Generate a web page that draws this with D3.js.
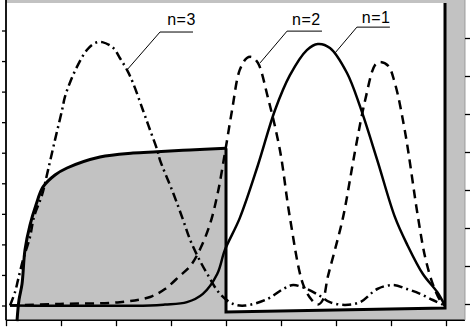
<!DOCTYPE html>
<html>
<head>
<meta charset="utf-8">
<script src="https://cdn.jsdelivr.net/npm/d3@7"></script>
<style>
  body { margin: 0; background: #fff; }
  svg { display: block; }
</style>
</head>
<body>
<svg width="474" height="327"></svg>
<script>
// well profile (x, energy) - white region lies above it
var wellX = [2.0, 2.36, 2.91, 3.45, 4.36, 5.45, 6.73, 8.91, 11.09, 17.09, 23.09, 27.45, 33.45, 40.0, 40.0, 79.82, 79.82];
var wellV = [-0.51, 0.18, 0.70, 1.82, 2.63, 3.29, 3.88, 4.27, 4.50, 4.86, 4.99, 5.03, 5.09, 5.15, -0.21, -0.08, 9.90];

// |psi|^2 for the three states
var n1X = [0.73, 26.2, 28.9, 32.9, 35.8, 38.4, 39.8, 42.5, 45.8, 48.9, 51.6, 54.7, 56.7, 58.9, 62.0, 64.4, 67.5, 70.7, 72.9, 75.8, 78.4, 79.8];
var n1Y = [0, 0, 0.03, 0.11, 0.38, 1.03, 1.82, 2.86, 4.59, 6.39, 7.53, 8.36, 8.56, 8.43, 7.61, 6.50, 4.76, 2.90, 2.01, 1.03, 0.44, 0];

var n2X = [0.73, 9.8, 20.7, 26.2, 28.9, 31.6, 33.5, 35.3, 37.1, 38.5, 39.8, 41.1, 42.5, 43.8, 44.7, 45.8, 47.6, 49.8, 51.6, 54.0, 55.6, 56.7, 57.6, 58.5, 59.8, 61.3, 63.5, 65.3, 67.1, 68.0, 69.5, 70.7, 72.5, 74.9, 76.2, 77.6, 78.9, 79.8];
var n2Y = [0, 0.05, 0.11, 0.28, 0.54, 0.97, 1.29, 1.85, 2.67, 3.68, 4.99, 6.39, 7.71, 8.10, 8.13, 7.94, 6.82, 5.09, 2.90, 0.70, 0.18, 0.03, 0.18, 0.93, 1.82, 2.90, 5.09, 6.72, 7.87, 7.97, 7.84, 7.28, 5.74, 2.90, 1.59, 0.70, 0.18, 0];

var n3X = [0.73, 1.64, 2.18, 3.09, 4.36, 5.09, 6.55, 7.64, 8.91, 10.2, 10.7, 11.6, 12.9, 14.7, 16.2, 17.5, 19.5, 20.7, 22.0, 23.1, 24.9, 26.2, 27.5, 28.0, 30.4, 32.2, 33.5, 34.9, 36.7, 38.9, 41.3, 43.5, 47.5, 50.4, 52.2, 54.7, 57.1, 58.9, 61.6, 64.4, 67.5, 70.4, 72.9, 75.3, 77.6, 79.8];
var n3Y = [0, 0.44, 0.83, 1.49, 2.24, 2.90, 3.62, 4.43, 5.42, 6.40, 6.82, 7.28, 7.81, 8.36, 8.59, 8.62, 8.43, 8.10, 7.71, 7.28, 6.39, 5.74, 5.09, 4.76, 3.68, 2.80, 2.14, 1.59, 1.00, 0.38, 0.05, 0, 0.21, 0.54, 0.67, 0.54, 0.31, 0.11, 0.02, 0.11, 0.54, 0.67, 0.54, 0.38, 0.18, 0];

var labels = ["n=1", "n=2", "n=3"];
var xTicks = [0, 10, 20, 30, 40, 50, 60, 70, 80];
var yTicks = [0, 1, 2, 3, 4, 5, 6, 7, 8, 9];
var y2Ticks = [0, 1, 2, 3, 4, 5, 6, 7];

var svg = d3.select("svg");

var x = d3.scaleLinear().domain([0, 80]).range([6, 446]);
var y = d3.scaleLinear().domain([0, 9]).range([305.5, 30.5]);
var y2 = d3.scaleLinear().domain([0, 7]).range([304, 38]);

var xMax = 83.45, vMin = -0.48, vMax = 10;

// grey background of the frame
svg.append("rect")
    .attr("x", x(0))
    .attr("y", y(vMax))
    .attr("width", x(xMax) - x(0))
    .attr("height", y(vMin) - y(vMax))
    .attr("fill", "#c2c2c2");

// white region above the profile
var white = [[0, 9.9], [0, vMin]].concat(wellX.map(function(d, i) { return [d, wellV[i]]; }));
svg.append("path")
    .datum(white)
    .attr("fill", "#fff")
    .attr("d", d3.line().x(function(d) { return x(d[0]); }).y(function(d) { return y(d[1]); }));

// profile outline: smooth part then the straight walls
var smooth = wellX.slice(0, 14).map(function(d, i) { return [d, wellV[i]]; });
var walls = wellX.slice(13).map(function(d, i) { return [d, wellV[i + 13]]; });
svg.append("path")
    .datum(smooth)
    .attr("fill", "none")
    .attr("stroke", "#000")
    .attr("stroke-width", 3)
    .attr("d", d3.line().curve(d3.curveCatmullRom.alpha(0.5)).x(function(d) { return x(d[0]); }).y(function(d) { return y(d[1]); }));
svg.append("path")
    .datum(walls)
    .attr("fill", "none")
    .attr("stroke", "#000")
    .attr("stroke-width", 3)
    .attr("d", d3.line().x(function(d) { return x(d[0]); }).y(function(d) { return y(d[1]); }));

// wave functions
var line = d3.line().curve(d3.curveCatmullRom.alpha(0.5))
    .x(function(d) { return x(d[0]); })
    .y(function(d) { return y(d[1]); });
var waves = [
  {xs: n1X, ys: n1Y, dash: null},
  {xs: n2X, ys: n2Y, dash: "9,6"},
  {xs: n3X, ys: n3Y, dash: "9,4,2,4"}
];
svg.selectAll(".wave")
    .data(waves)
    .enter().append("path")
      .attr("class", "wave")
      .attr("fill", "none")
      .attr("stroke", "#000")
      .attr("stroke-width", 2.5)
      .attr("stroke-dasharray", function(d) { return d.dash; })
      .attr("d", function(d) { return line(d.xs.map(function(v, i) { return [v, d.ys[i]]; })); });

// axes
svg.append("g")
    .attr("transform", "translate(0," + y(vMin) + ")")
    .call(d3.axisBottom(x).tickValues(xTicks).tickSize(6).tickSizeOuter(0).tickFormat(""))
    .call(function(g) { g.select(".domain").attr("stroke-width", 1.5).attr("d", "M" + x(0) + ",0H" + x(xMax)); })
    .call(function(g) { g.selectAll(".tick line").attr("stroke-width", 1.3); });

svg.append("g")
    .attr("transform", "translate(" + x(0) + ",0)")
    .call(d3.axisLeft(y).tickValues(yTicks).tickSize(4).tickSizeOuter(0).tickFormat(""))
    .call(function(g) { g.select(".domain").attr("stroke-width", 1.8).attr("d", "M0," + y(vMax) + "V" + y(vMin)); })
    .call(function(g) { g.selectAll(".tick line").attr("stroke-width", 1.3); });

svg.append("g")
    .attr("transform", "translate(" + x(xMax) + ",0)")
    .call(d3.axisRight(y2).tickValues(y2Ticks).tickSize(5).tickSizeOuter(0).tickFormat(""))
    .call(function(g) { g.select(".domain").attr("stroke", "#999").attr("d", "M0," + y(vMax) + "V" + y(vMin)); })
    .call(function(g) { g.selectAll(".tick line").attr("stroke-width", 1.3); });

// state labels with leader lines
var notes = [
  {t: labels[0], tx: 64.7, ty: 9.25, u0: 63.8, u1: 69.8, uy: 9.11, px: 59.8, py: 8.26},
  {t: labels[1], tx: 52.0, ty: 9.18, u0: 51.1, u1: 57.45, uy: 8.98, px: 46.2, py: 7.94},
  {t: labels[2], tx: 29.3, ty: 9.18, u0: 28.0, u1: 34.0, uy: 8.95, px: 22.0, py: 7.71}
];
var note = svg.selectAll(".note")
    .data(notes)
    .enter().append("g")
      .attr("class", "note");
note.append("path")
    .attr("fill", "none")
    .attr("stroke", "#000")
    .attr("stroke-width", 1)
    .attr("d", function(d) {
      return "M" + x(d.px) + "," + y(d.py) + "L" + x(d.u0) + "," + y(d.uy) + "H" + x(d.u1);
    });
note.append("text")
    .attr("x", function(d) { return x(d.tx); })
    .attr("y", function(d) { return y(d.ty); })
    .attr("font-family", "Liberation Sans, Arial, sans-serif")
    .attr("font-size", "16px")
    .attr("letter-spacing", "0.5px")
    .text(function(d) { return d.t; });
</script>
</body>
</html>
